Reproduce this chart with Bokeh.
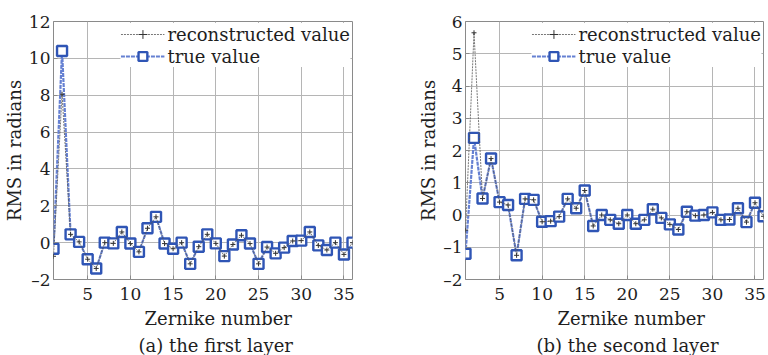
from bokeh.plotting import figure
from bokeh.layouts import row
from bokeh.models import Title, FixedTicker, Range1d, Legend, LegendItem
from bokeh.embed import file_html
from bokeh.resources import INLINE

zernike = list(range(1, 37))

true_a = [-0.33, 10.4, 0.45, 0.04, -0.9, -1.4, 0.0, -0.04, 0.58, -0.05, -0.5, 0.78,
          1.4, -0.05, -0.33, 0.0, -1.15, -0.22, 0.45, -0.04, -0.73, -0.1, 0.4, -0.05,
          -1.15, -0.24, -0.58, -0.27, 0.09, 0.11, 0.58, -0.15, -0.4, 0.0, -0.64, 0.0]
recon_a = [-0.74, 8.05, 0.45, 0.04, -0.9, -1.4, 0.0, -0.04, 0.58, -0.05, -0.5, 0.78,
           1.4, -0.05, -0.33, 0.0, -1.15, -0.22, 0.45, -0.04, -0.73, -0.1, 0.4, -0.05,
           -1.15, -0.24, -0.58, -0.27, 0.09, 0.11, 0.58, -0.15, -0.4, 0.0, -0.64, 0.0]

true_b = [-1.2, 2.39, 0.51, 1.75, 0.4, 0.31, -1.25, 0.5, 0.47, -0.21, -0.19, -0.05,
          0.5, 0.21, 0.76, -0.34, 0.0, -0.15, -0.27, 0.0, -0.27, -0.15, 0.18, -0.09,
          -0.29, -0.45, 0.1, -0.02, 0.0, 0.08, -0.15, -0.14, 0.21, -0.22, 0.38, -0.04]
recon_b = [-0.47, 5.65, 0.51, 1.75, 0.4, 0.31, -1.25, 0.5, 0.47, -0.21, -0.19, -0.05,
           0.5, 0.21, 0.76, -0.34, 0.0, -0.15, -0.27, 0.0, -0.27, -0.15, 0.18, -0.09,
           -0.29, -0.45, 0.1, -0.02, 0.0, 0.08, -0.15, -0.14, 0.21, -0.22, 0.38, -0.04]

x_ticks = [5, 10, 15, 20, 25, 30, 35]
y_ticks_a = [-2, 0, 2, 4, 6, 8, 10, 12]
y_ticks_b = [-2, -1, 0, 1, 2, 3, 4, 5, 6]

captions = ["(a) the first layer", "(b) the second layer"]
legend_labels = ["reconstructed value", "true value"]
x_label = "Zernike number"
y_label = "RMS in radians"

FONT = "DejaVu Serif"
BLUE = "#2f55b5"
BLUE_LINE = "#6580d2"
GRAY = "#555555"
TXT = "#1e1e1e"


def panel(tv, rv, yr, yt, caption, left_border, frame_w, right_border,
          xlab_off, cap_off):
    p = figure(frame_width=frame_w, frame_height=258,
               min_border_left=left_border, min_border_right=right_border,
               min_border_top=21, min_border_bottom=0,
               x_range=Range1d(1, 36), y_range=Range1d(*yr),
               output_backend="svg", toolbar_location=None)
    p.background_fill_color = "white"
    p.border_fill_color = "white"
    p.outline_line_color = "#8a8a8a"
    p.outline_line_width = 1

    for ax in (p.xaxis[0], p.yaxis[0]):
        ax.axis_line_color = None
        ax.major_tick_out = 0
        ax.major_tick_in = 4
        ax.major_tick_line_color = "#8a8a8a"
        ax.minor_tick_line_color = None
        ax.major_label_text_font = FONT
        ax.major_label_text_font_size = "17px"
        ax.major_label_text_color = TXT
        ax.axis_label_text_font = FONT
        ax.axis_label_text_font_style = "normal"
        ax.axis_label_text_color = TXT
    p.xaxis.major_label_standoff = 8
    p.yaxis.major_label_standoff = 3
    p.xaxis.ticker = FixedTicker(ticks=x_ticks)
    p.yaxis.ticker = FixedTicker(ticks=yt)
    p.yaxis.major_label_overrides = {t: ("\u2013" + str(-t)) for t in yt if t < 0}
    p.yaxis.axis_label = y_label
    p.yaxis.axis_label_text_font_size = "18px"
    p.yaxis.axis_label_standoff = 1

    p.xgrid.ticker = FixedTicker(ticks=x_ticks)
    p.ygrid.ticker = FixedTicker(ticks=yt)
    p.grid.grid_line_color = "#b5b5b5"
    p.grid.grid_line_width = 1

    tl = p.line(zernike, tv, line_color=BLUE_LINE, line_width=2.2, line_dash="4 1")
    ts = p.scatter(zernike, tv, marker="square", size=10, line_color=BLUE,
                   line_width=2.4, fill_color="white")
    rl = p.line(zernike, rv, line_color=GRAY, line_width=0.8, line_dash="2 1")
    rs = p.scatter(zernike, rv, marker="cross", size=5, line_color="#333333",
                   line_width=1)

    legend = Legend(items=[LegendItem(label=legend_labels[0], renderers=[rl, rs]),
                           LegendItem(label=legend_labels[1], renderers=[tl, ts])],
                    location="top_right")
    legend.label_text_font = FONT
    legend.label_text_font_size = "18px"
    legend.label_text_color = TXT
    legend.label_standoff = 3
    legend.glyph_width = 44
    legend.glyph_height = 22
    legend.label_height = 22
    legend.spacing = 0
    legend.padding = 2
    legend.margin = 2
    legend.border_line_color = None
    legend.background_fill_color = "white"
    legend.background_fill_alpha = 1.0
    p.add_layout(legend)

    p.add_layout(Title(text=x_label, align="left", text_font=FONT,
                       text_font_size="18px", text_font_style="normal",
                       text_color=TXT, standoff=6, offset=xlab_off), "below")
    p.add_layout(Title(text=caption, align="left", text_font=FONT,
                       text_font_size="18px", text_font_style="normal",
                       text_color=TXT, standoff=3, offset=cap_off), "below")
    return p


p1 = panel(true_a, recon_a, (-2, 12), y_ticks_a, captions[0], 53, 299, 32, 91, 85)
p2 = panel(true_b, recon_b, (-2, 6), y_ticks_b, captions[1], 81, 298, 5, 92, 71)

layout = row(p1, p2)
open("out.html", "w").write(file_html(layout, INLINE))
